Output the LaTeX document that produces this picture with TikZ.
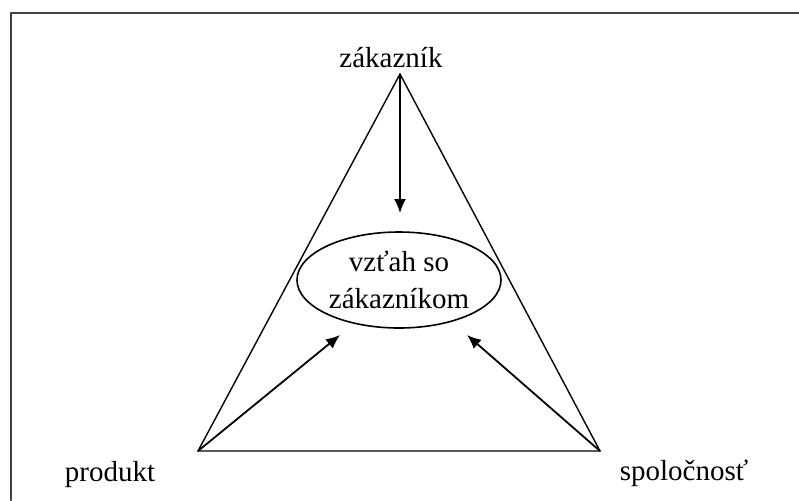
\documentclass[tikz,border=0pt]{standalone}
\usepackage{fontspec}
\setmainfont{Liberation Serif}
\usetikzlibrary{shapes.geometric,arrows.meta}

\begin{document}
\begin{tikzpicture}[x=0.5pt,y=-0.5pt,line cap=round,line join=round,>={Latex[length=7pt,width=6pt]},
  every node/.style={font=\fontsize{14.5}{18.5}\selectfont,text=black,inner sep=0pt}]
  \useasboundingbox (0,0) rectangle (799,500);
  \draw[line width=1.3pt,black!75] (799,13) -- (11,13) -- (11,500);
  \coordinate (apex) at (400,74);
  \coordinate (prod) at (198,451);
  \coordinate (comp) at (600,451);
  \draw[line width=0.7pt] (apex) -- (prod) -- (comp) -- cycle;
  \node[ellipse,draw,line width=0.8pt,minimum width=102pt,minimum height=48pt,align=center] (rel) at (399,280) {vzťah so\\zákazníkom};
  \coordinate (tipTop) at (400,213);
  \coordinate (tipLeft) at (340,335);
  \coordinate (tipRight) at (467,335);
  \draw[line width=0.9pt,->] (apex) -- (tipTop);
  \draw[line width=0.9pt,->] (prod) -- (tipLeft);
  \draw[line width=0.9pt,->] (comp) -- (tipRight);
  \node[anchor=base] (cust) at (391,67) {zákazník};
  \node[anchor=base] (prodLbl) at (110,481) {produkt};
  \node[anchor=base] (compLbl) at (684,480) {spoločnosť};
\end{tikzpicture}
\end{document}
